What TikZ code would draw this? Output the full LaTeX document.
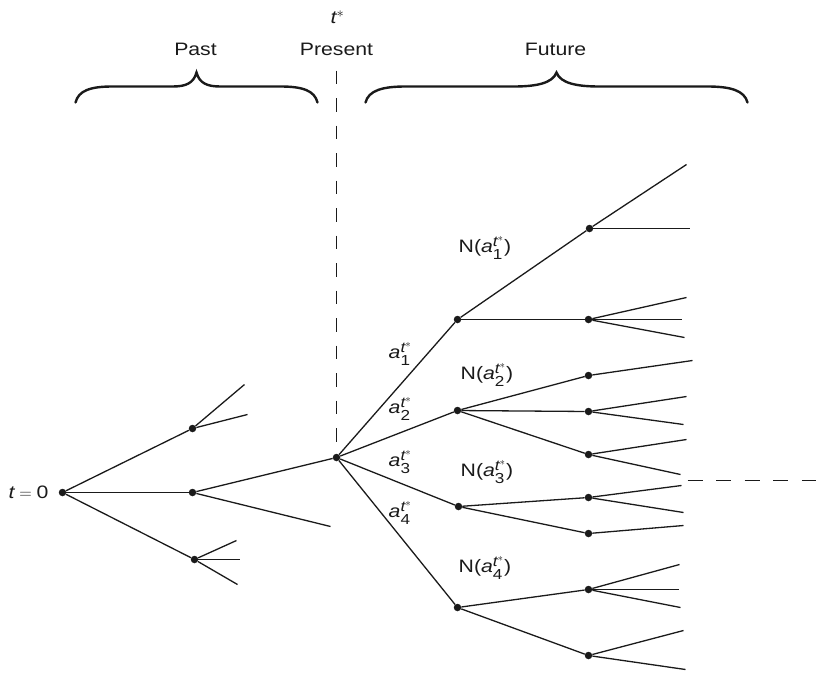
\documentclass[tikz,border=0pt]{standalone}
\usepackage{fontspec}
\usepackage{amsmath}
\setmainfont{Liberation Sans}[FakeStretch=1.18]
\DeclareMathSizes{18}{18}{14.5}{11}
\definecolor{ink}{HTML}{1A1A1A}
\newcommand{\actlbl}[1]{$\textit{a}^{\textit{t}^{*}}_{\text{#1}}$}
\begin{document}
\begin{tikzpicture}[x=1pt,y=-1pt,
  dot/.style={circle,fill=ink,draw=none,minimum size=7.5pt,inner sep=0pt},
  edge/.style={draw=ink,line width=1.3pt},
  bracepath/.style={draw=ink,line width=2.4pt,line cap=round},
  guide/.style={draw=ink,line width=1.3pt,dash pattern=on 13.5pt off 14pt},
  lbl/.style={inner sep=0pt,text=ink,font=\fontsize{18}{22}\selectfont}]
\useasboundingbox (0,0) rectangle (816,673);
% coordinates are pixel rows/columns; shift them to pixel centres
\begin{scope}[shift={(0.5,0.5)}]

% ---- headings and braces
\node[lbl,anchor=base] (tstar) at (337,23) {$\textit{t}^{*}$};
\node[lbl,anchor=base] (past) at (195,55) {Past};
\node[lbl,anchor=base] (present) at (336,55) {Present};
\node[lbl,anchor=base] (future) at (555,55) {Future};

% Past brace
\draw[bracepath] (75,102) .. controls (78,90) and (90,86) .. (112,86)
  -- (172,86) .. controls (185,86) and (193,83) .. (196,72)
  .. controls (199,83) and (207,86) .. (220,86)
  -- (280,86) .. controls (302,86) and (314,90) .. (317,102);
% Future brace
\draw[bracepath] (365,102) .. controls (368,90) and (382,86) .. (405,86)
  -- (513,86) .. controls (535,86) and (552,83) .. (556,72)
  .. controls (560,83) and (577,86) .. (599,86)
  -- (707,86) .. controls (730,86) and (744,90) .. (747,102);

% ---- present node and dashed guide
\node[dot] (P) at (336,457) {};
\coordinate (ptop) at (336,70);
\draw[guide] (ptop) -- (P);

% ---- past tree
\node[dot] (r) at (62,492) {};
\node[lbl,anchor=base] (t0) at (28,498) {$\textit{t} = \text{0}$};
\node[dot] (p1) at (192,428) {};
\node[dot] (p2) at (192,492) {};
\node[dot] (p3) at (194,559) {};
\coordinate (p1a) at (244,384);
\coordinate (p1b) at (247,414);
\coordinate (p2b) at (330,526);
\coordinate (p3a) at (236,540);
\coordinate (p3b) at (239,559);
\coordinate (p3c) at (237,584);
\draw[edge] (r) -- (p1);
\draw[edge] (r) -- (p2);
\draw[edge] (r) -- (p3);
\draw[edge] (p1) -- (p1a);
\draw[edge] (p1) -- (p1b);
\draw[edge] (p2) -- (P);
\draw[edge] (p2) -- (p2b);
\draw[edge] (p3) -- (p3a);
\draw[edge] (p3) -- (p3b);
\draw[edge] (p3) -- (p3c);

% ---- future tree: actions
\node[dot] (F1) at (457,319) {};
\node[dot] (F2) at (457,410) {};
\node[dot] (F3) at (458,506) {};
\node[dot] (F4) at (457,607) {};
\draw[edge] (P) -- (F1);
\draw[edge] (P) -- (F2);
\draw[edge] (P) -- (F3);
\draw[edge] (P) -- (F4);

\node[lbl,anchor=base west] (a1) at (388,358) {\actlbl{1}};
\node[lbl,anchor=base west] (a2) at (388,413) {\actlbl{2}};
\node[lbl,anchor=base west] (a3) at (388,466) {\actlbl{3}};
\node[lbl,anchor=base west] (a4) at (388,517) {\actlbl{4}};

\node[lbl,anchor=base west] (n1) at (458,252) {N(\actlbl{1})};
\node[lbl,anchor=base west] (n2) at (460,379) {N(\actlbl{2})};
\node[lbl,anchor=base west] (n3) at (460,476) {N(\actlbl{3})};
\node[lbl,anchor=base west] (n4) at (458,572) {N(\actlbl{4})};

% ---- second stage
\node[dot] (G11) at (589,228) {};
\node[dot] (G12) at (588,319) {};
\node[dot] (G21) at (588,375) {};
\node[dot] (G22) at (588,411) {};
\node[dot] (G23) at (588,454) {};
\node[dot] (G31) at (588,497) {};
\node[dot] (G32) at (588,533) {};
\node[dot] (G41) at (588,589) {};
\node[dot] (G42) at (588,655) {};
\draw[edge] (F1) -- (G11);
\draw[edge] (F1) -- (G12);
\draw[edge] (F2) -- (G21);
\draw[edge] (F2) -- (G22);
\draw[edge] (F2) -- (G23);
\draw[edge] (F3) -- (G31);
\draw[edge] (F3) -- (G32);
\draw[edge] (F4) -- (G41);
\draw[edge] (F4) -- (G42);

% ---- leaves
\coordinate (L11a) at (686,164);
\coordinate (L11b) at (689,228);
\coordinate (L12a) at (686,297);
\coordinate (L12b) at (681,319);
\coordinate (L12c) at (684,337);
\coordinate (L21a) at (692,360);
\coordinate (L22a) at (686,396);
\coordinate (L22b) at (683,424);
\coordinate (L23a) at (686,439);
\coordinate (L23b) at (680,474);
\coordinate (L31a) at (681,485);
\coordinate (L31b) at (683,512);
\coordinate (L32a) at (683,525);
\coordinate (L41a) at (679,564);
\coordinate (L41b) at (678,589);
\coordinate (L41c) at (680,607);
\coordinate (L42a) at (683,630);
\coordinate (L42b) at (685,669);
\draw[edge] (G11) -- (L11a);
\draw[edge] (G11) -- (L11b);
\draw[edge] (G12) -- (L12a);
\draw[edge] (G12) -- (L12b);
\draw[edge] (G12) -- (L12c);
\draw[edge] (G21) -- (L21a);
\draw[edge] (G22) -- (L22a);
\draw[edge] (G22) -- (L22b);
\draw[edge] (G23) -- (L23a);
\draw[edge] (G23) -- (L23b);
\draw[edge] (G31) -- (L31a);
\draw[edge] (G31) -- (L31b);
\draw[edge] (G32) -- (L32a);
\draw[edge] (G41) -- (L41a);
\draw[edge] (G41) -- (L41b);
\draw[edge] (G41) -- (L41c);
\draw[edge] (G42) -- (L42a);
\draw[edge] (G42) -- (L42b);

% horizontal guide on the right
\coordinate (hg0) at (687,480);
\coordinate (hg1) at (816,480);
\draw[guide,dash pattern=on 15pt off 13.6pt] (hg0) -- (hg1);
\end{scope}
\end{tikzpicture}
\end{document}
